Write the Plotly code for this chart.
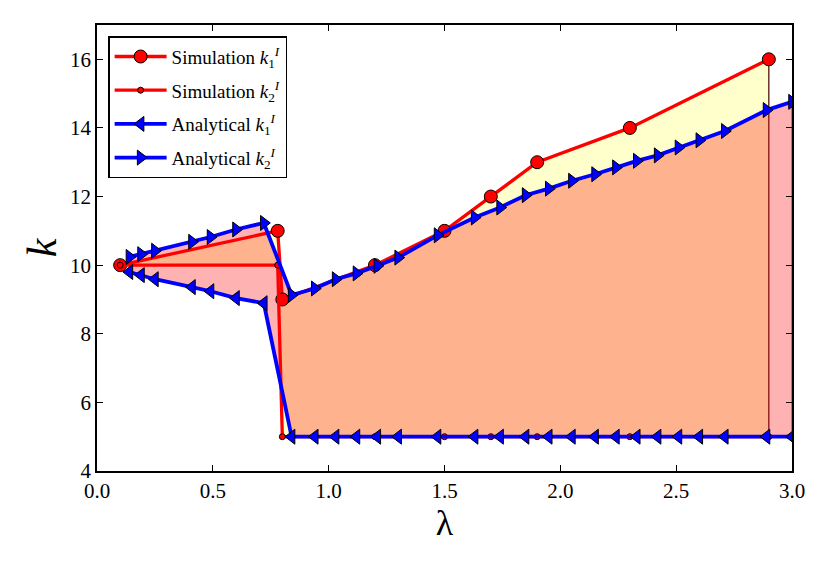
import plotly.graph_objects as go

# Simulation data
sim_lam = [0.1, 0.78, 0.80, 1.2, 1.5, 1.7, 1.9, 2.3, 2.9]
sim_k1 = [10, 11, 9, 10, 11, 12, 13, 14, 16]
sim_k2 = [10, 10, 5, 5, 5, 5, 5, 5, 5]

# Analytical data
ana_lam = [0.14, 0.19, 0.25, 0.41, 0.49, 0.60, 0.72,
           0.84, 0.94, 1.03, 1.12, 1.21, 1.30, 1.47, 1.63, 1.74, 1.85,
           1.95, 2.05, 2.15, 2.24, 2.33, 2.42, 2.51, 2.60, 2.71, 2.89, 3.0]
ana_k1 = [9.80, 9.71, 9.59, 9.36, 9.24, 9.04, 8.89,
          5, 5, 5, 5, 5, 5, 5, 5, 5, 5,
          5, 5, 5, 5, 5, 5, 5, 5, 5, 5, 5]
ana_k2 = [10.24, 10.32, 10.42, 10.68, 10.82, 11.04, 11.23,
          9.13, 9.32, 9.59, 9.76, 9.98, 10.22, 10.87, 11.39, 11.68, 12.04,
          12.23, 12.46, 12.65, 12.85, 13.04, 13.20, 13.43, 13.64, 13.91, 14.52, 14.76]

x_ticks = [0.0, 0.5, 1.0, 1.5, 2.0, 2.5, 3.0]
y_ticks = [4, 6, 8, 10, 12, 14, 16]

FONT = "Times New Roman, Liberation Serif, serif"

fig = go.Figure()

# fills
fig.add_trace(go.Scatter(
    x=sim_lam + sim_lam[::-1], y=sim_k1 + sim_k2[::-1],
    fill="toself", fillcolor="rgba(255,255,0,0.2)",
    mode="lines", line=dict(color="rgba(70,0,0,1)", width=1.2),
    showlegend=False, hoverinfo="skip"))
fig.add_trace(go.Scatter(
    x=ana_lam + ana_lam[::-1], y=ana_k1 + ana_k2[::-1],
    fill="toself", fillcolor="rgba(255,0,0,0.3)",
    mode="lines", line=dict(color="rgba(70,0,0,0.7)", width=1),
    showlegend=False, hoverinfo="skip"))

# lines
fig.add_trace(go.Scatter(
    x=sim_lam, y=sim_k1, mode="lines+markers", legendgroup="a",
    name="Simulation <i>k</i><sub>1</sub><sup><i>I</i></sup>",
    line=dict(color="red", width=3.3),
    marker=dict(symbol="circle", size=13, color="red",
                line=dict(color="black", width=1))))
fig.add_trace(go.Scatter(
    x=sim_lam, y=sim_k2, mode="lines+markers", legendgroup="b",
    name="Simulation <i>k</i><sub>2</sub><sup><i>I</i></sup>",
    line=dict(color="red", width=3.3),
    marker=dict(symbol="circle", size=6, color="red",
                line=dict(color="black", width=1))))
fig.add_trace(go.Scatter(
    x=ana_lam, y=ana_k1, mode="lines+markers", legendgroup="c",
    name="Analytical <i>k</i><sub>1</sub><sup><i>I</i></sup>",
    line=dict(color="blue", width=3.8),
    marker=dict(symbol="triangle-left", size=13, color="blue",
                line=dict(color="black", width=1))))
fig.add_trace(go.Scatter(
    x=ana_lam, y=ana_k2, mode="lines+markers", legendgroup="d",
    name="Analytical <i>k</i><sub>2</sub><sup><i>I</i></sup>",
    line=dict(color="blue", width=3.8),
    marker=dict(symbol="triangle-right", size=13, color="blue",
                line=dict(color="black", width=1))))

axis_common = dict(showline=True, linecolor="black", linewidth=1.5,
                   mirror="ticks", ticks="inside", ticklen=6, tickwidth=1,
                   tickcolor="black", showgrid=False, zeroline=False,
                   tickfont=dict(family=FONT, size=21, color="black"))

fig.update_xaxes(range=[0, 3], tickvals=x_ticks,
                 ticktext=[f"{v:.1f}" for v in x_ticks],
                 title=dict(text="λ", font=dict(family=FONT, size=36, color="black"),
                            standoff=0),
                 **axis_common)
fig.update_yaxes(range=[4, 17], tickvals=y_ticks,
                 ticktext=[str(v) for v in y_ticks],
                 title=dict(text="<i>k</i>", font=dict(family=FONT, size=42, color="black"),
                            standoff=0),
                 **axis_common)

fig.update_layout(
    width=830, height=564,
    margin=dict(l=89, r=46, t=17, b=101),
    paper_bgcolor="white", plot_bgcolor="white",
    legend=dict(x=0.016, y=0.975, xanchor="left", yanchor="top",
                bgcolor="white", bordercolor="black", borderwidth=1.5,
                font=dict(family=FONT, size=19, color="black"),
                tracegroupgap=6, itemwidth=52),
)

fig.write_html("out.html")
